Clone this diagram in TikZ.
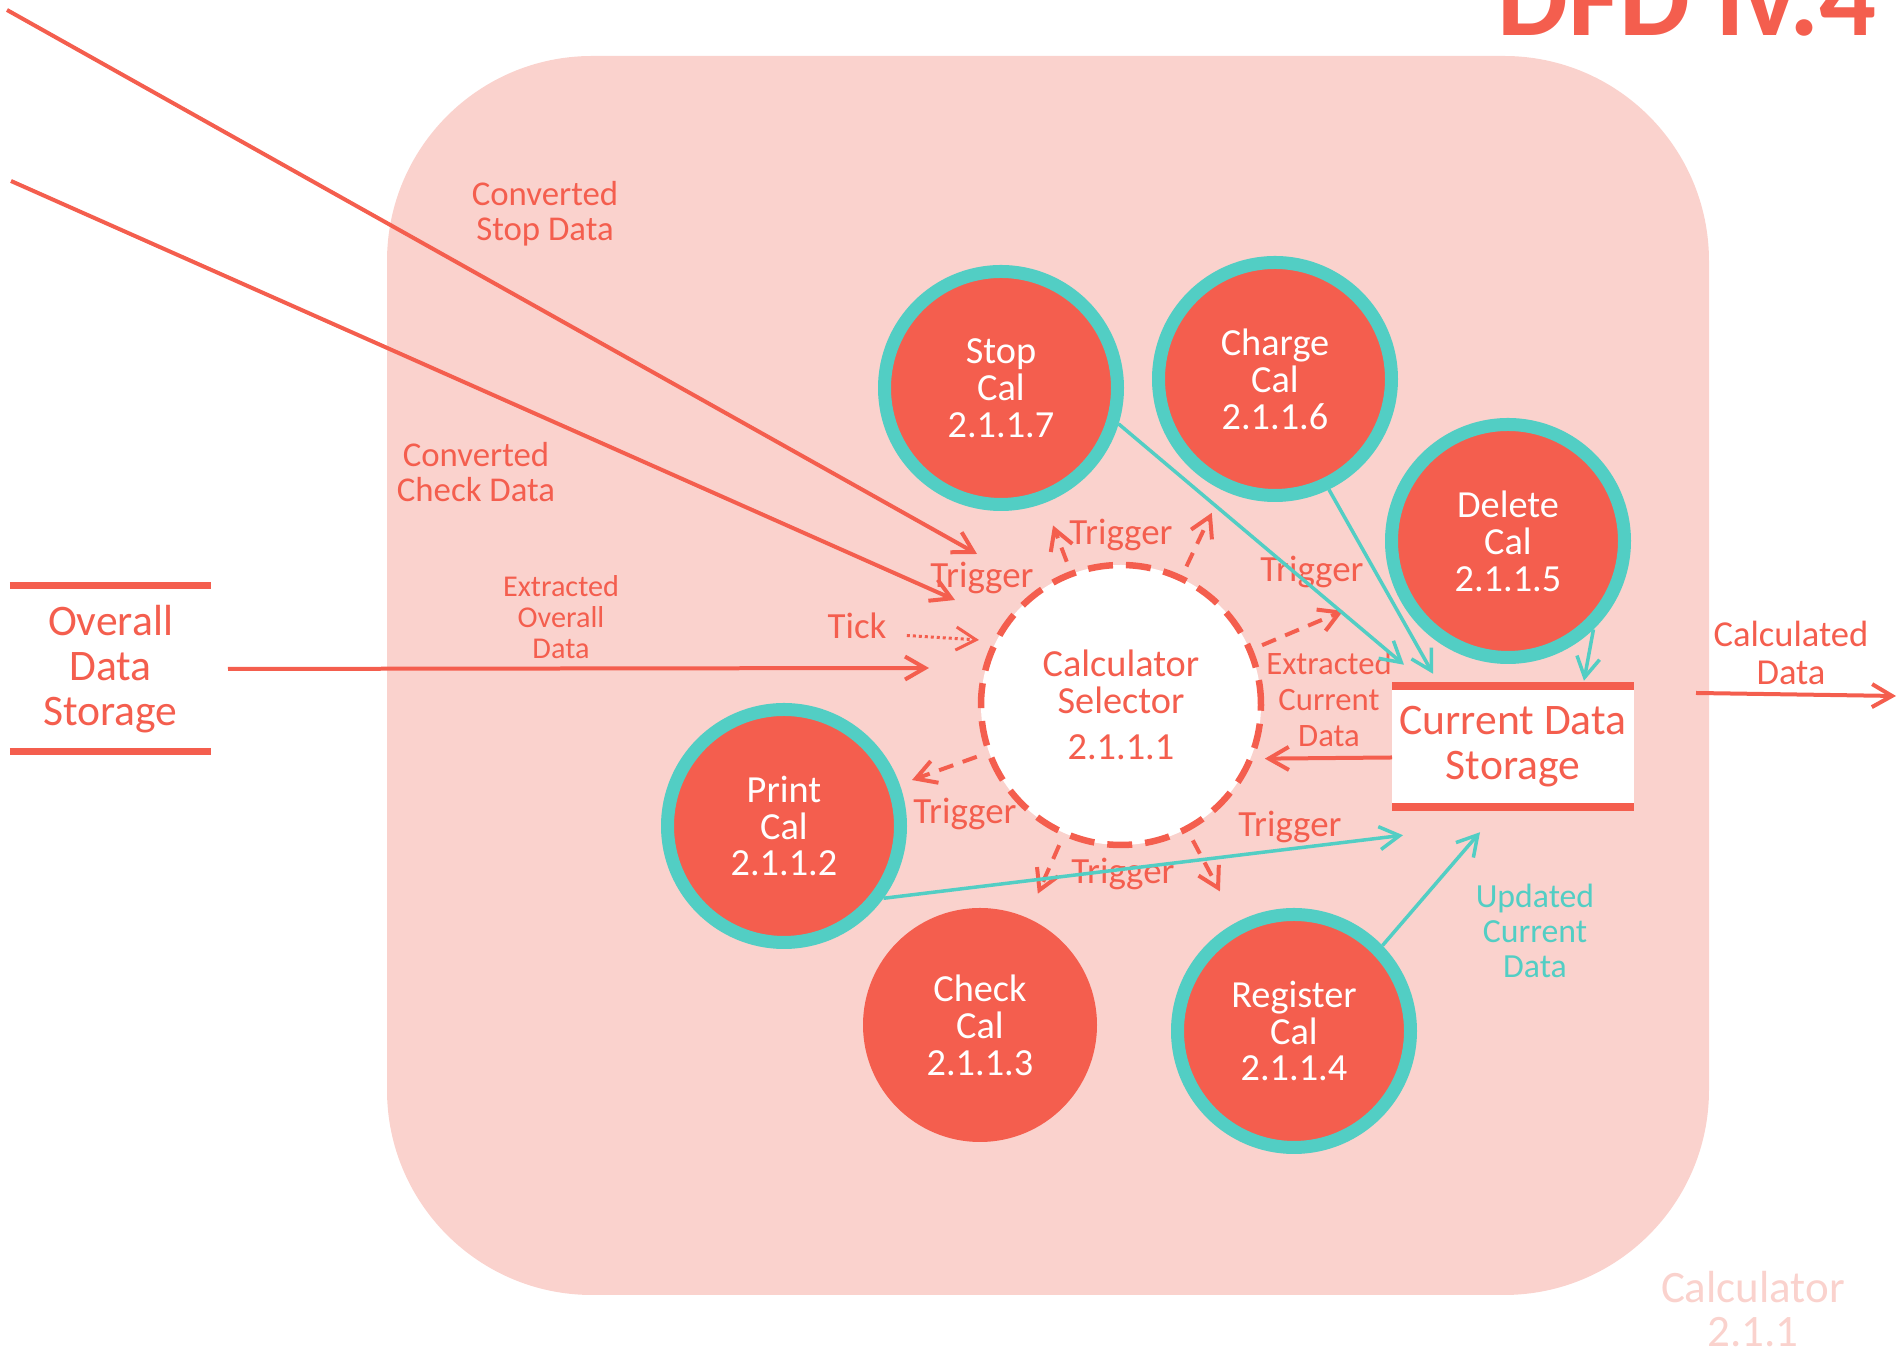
\documentclass[tikz,border=0pt]{standalone}
\usepackage{fontspec}
\setmainfont{Carlito}
\usepackage{xcolor}
\usetikzlibrary{arrows.meta}
\definecolor{dfdred}{RGB}{244,94,78}
\definecolor{dfdteal}{RGB}{82,206,196}
\definecolor{dfdpink}{RGB}{250,210,205}
\tikzstyle{process}=[circle, minimum size=2.33cm, inner sep=0pt, fill=dfdred, draw=dfdteal, line width=0.13cm, text=white, align=center, font=\fontsize{10.9}{10.5}\selectfont]
\tikzstyle{selector}=[circle, minimum size=2.8cm, inner sep=0pt, fill=white, draw=dfdred, line width=0.065cm, dash pattern=on 0.25cm off 0.13cm, text=dfdred, align=center, font=\fontsize{10.9}{10.5}\selectfont]
\tikzstyle{store}=[inner sep=0pt, outer sep=0pt, text=dfdred, align=center, font=\fontsize{12.4}{12.8}\selectfont]
\tikzstyle{bar}=[line width=0.08cm, dfdred]
\tikzstyle{flowtext}=[text=dfdred, align=center, font=\fontsize{10.5}{10}\selectfont]
\tikzstyle{flow}=[-{Straight Barb[length=0.2cm,width=0.23cm]}, line width=0.04cm, color=dfdred]
\tikzstyle{update}=[-{Straight Barb[length=0.2cm,width=0.23cm]}, line width=0.035cm, color=dfdteal]
\tikzstyle{trigger}=[flow, dash pattern=on 0.15cm off 0.1cm, shorten <=0.1cm]
\tikzstyle{ticker}=[flow, line width=0.03cm, dash pattern=on 0.03cm off 0.03cm]

\begin{document}
\begin{tikzpicture}
  \useasboundingbox (0,0) rectangle (19.01,13.48);
  \clip (0,0) rectangle (19.01,13.48);
  %% Calculator 2.1.1 boundary
  \fill[dfdpink, rounded corners=2.05cm] (3.87,0.53) rectangle (17.09,12.92);
  \draw (17.53,0.39) node[text=dfdpink, align=center, font=\fontsize{12.8}{12.5}\selectfont] (calc) {Calculator\\2.1.1};
  \draw (14.85,13.12) node[anchor=base west, text=dfdred, font=\fontsize{32}{32}\bfseries\selectfont] (title) {DFD lv.4};

  %% Processes
  \draw (10.01,9.60) node[process] (stop) {Stop\\Cal\\2.1.1.7};
  \draw (12.75,9.69) node[process] (charge) {Charge\\Cal\\2.1.1.6};
  \draw (15.08,8.07) node[process] (delete) {Delete\\Cal\\2.1.1.5};
  \draw (7.84,5.22) node[process] (print) {Print\\Cal\\2.1.1.2};
  \draw (9.80,3.23) node[process, draw=none, minimum size=2.34cm] (check) {Check\\Cal\\2.1.1.3};
  \draw (12.94,3.17) node[process] (register) {Register\\Cal\\2.1.1.4};
  \draw (11.21,6.43) node[selector] (sel) {Calculator\\Selector\\[0.09cm]2.1.1.1};

  %% Stores
  \draw (1.105,6.79) node[store, minimum width=2.01cm, minimum height=1.66cm] (ods) {Overall\\Data\\Storage};
  \draw[bar, line width=0.07cm] (ods.north west) -- (ods.north east);
  \draw[bar, line width=0.07cm] (ods.south west) -- (ods.south east);
  \draw (15.13,6.015) node[store, fill=white, minimum width=2.42cm, minimum height=1.215cm] (cds) {Current Data\\Storage};
  \draw[bar] (cds.north west) -- (cds.north east);
  \draw[bar] (cds.south west) -- (cds.south east);

  %% Incoming data
  \coordinate (stopIn) at (0.07,13.38);
  \coordinate (stopTip) at (9.77,7.94);
  \coordinate (checkIn) at (0.11,11.67);
  \coordinate (checkTip) at (9.55,7.48);
  \coordinate (odsTip) at (9.29,6.80);
  \coordinate (tickTip) at (9.79,7.08);
  \draw[flow] (stopIn) -- (stopTip);
  \draw[flow] (checkIn) -- (checkTip);
  \draw[flow, shorten <=0.17cm] (ods.east) -- (odsTip);

  \draw (5.45,11.34) node[flowtext, font=\fontsize{9.9}{10}\selectfont] (stopData) {Converted\\Stop Data};
  \draw (4.76,8.76) node[flowtext, font=\fontsize{9.9}{10}\selectfont] (checkData) {Converted\\Check Data};
  \draw (5.61,7.31) node[flowtext, font=\fontsize{8.6}{8.9}\selectfont] (odsData) {Extracted\\Overall\\Data};
  \draw (8.57,7.22) node[flowtext] (tick) {Tick};
  \draw[ticker, shorten <=0.08cm] ([yshift=-0.09cm]tick.east) -- (tickTip);

  %% Triggers
  \draw[trigger, shorten >=0.24cm] (sel) -- (stop);
  \draw[trigger, shorten >=0.25cm] (sel) -- (charge);
  \draw[trigger, shorten >=0.56cm] (sel) -- (delete);
  \draw[trigger, shorten >=0.13cm] (sel) -- (print);
  \draw[trigger, shorten >=0.20cm] (sel) -- (check);
  \draw[trigger, shorten >=0.35cm] (sel) -- (register);
  \draw (9.82,7.70) node[flowtext] (trigStop) {Trigger};
  \draw (11.21,8.13) node[flowtext] (trigCharge) {Trigger};
  \draw (13.12,7.76) node[flowtext] (trigDelete) {Trigger};
  \draw (9.65,5.34) node[flowtext] (trigPrint) {Trigger};
  \draw (11.23,4.74) node[flowtext] (trigCheck) {Trigger};
  \draw (12.90,5.21) node[flowtext] (trigRegister) {Trigger};

  %% Current data
  \draw[flow] ([yshift=-0.11cm]cds.west) -- ([xshift=0.11cm]sel.-22);
  \draw (13.29,6.49) node[flowtext, font=\fontsize{9.3}{10.2}\selectfont] (cdsData) {Extracted\\Current\\Data};
  \draw[update] (stop.-17) -- ([xshift=0.12cm,yshift=0.21cm]cds.north west);
  \draw[update] (charge.-64) -- ([xshift=0.41cm,yshift=0.12cm]cds.north west);
  \draw[update] (delete.-46) -- ([xshift=-0.50cm,yshift=0.05cm]cds.north east);
  \draw[update] (print.-36) -- ([xshift=0.11cm,yshift=-0.28cm]cds.south west);
  \draw[update] (register.44) -- ([xshift=0.88cm,yshift=-0.25cm]cds.south west);
  \draw (15.35,4.17) node[flowtext, text=dfdteal, font=\fontsize{9.6}{10}\selectfont] (updData) {Updated\\Current\\Data};

  %% Output
  \coordinate (outL) at (16.96,6.55);
  \coordinate (outR) at (18.96,6.52);
  \draw[flow] (outL) -- (outR);
  \draw (17.91,6.95) node[flowtext, font=\fontsize{10.4}{10.8}\selectfont] (outData) {Calculated\\Data};
\end{tikzpicture}
\end{document}
